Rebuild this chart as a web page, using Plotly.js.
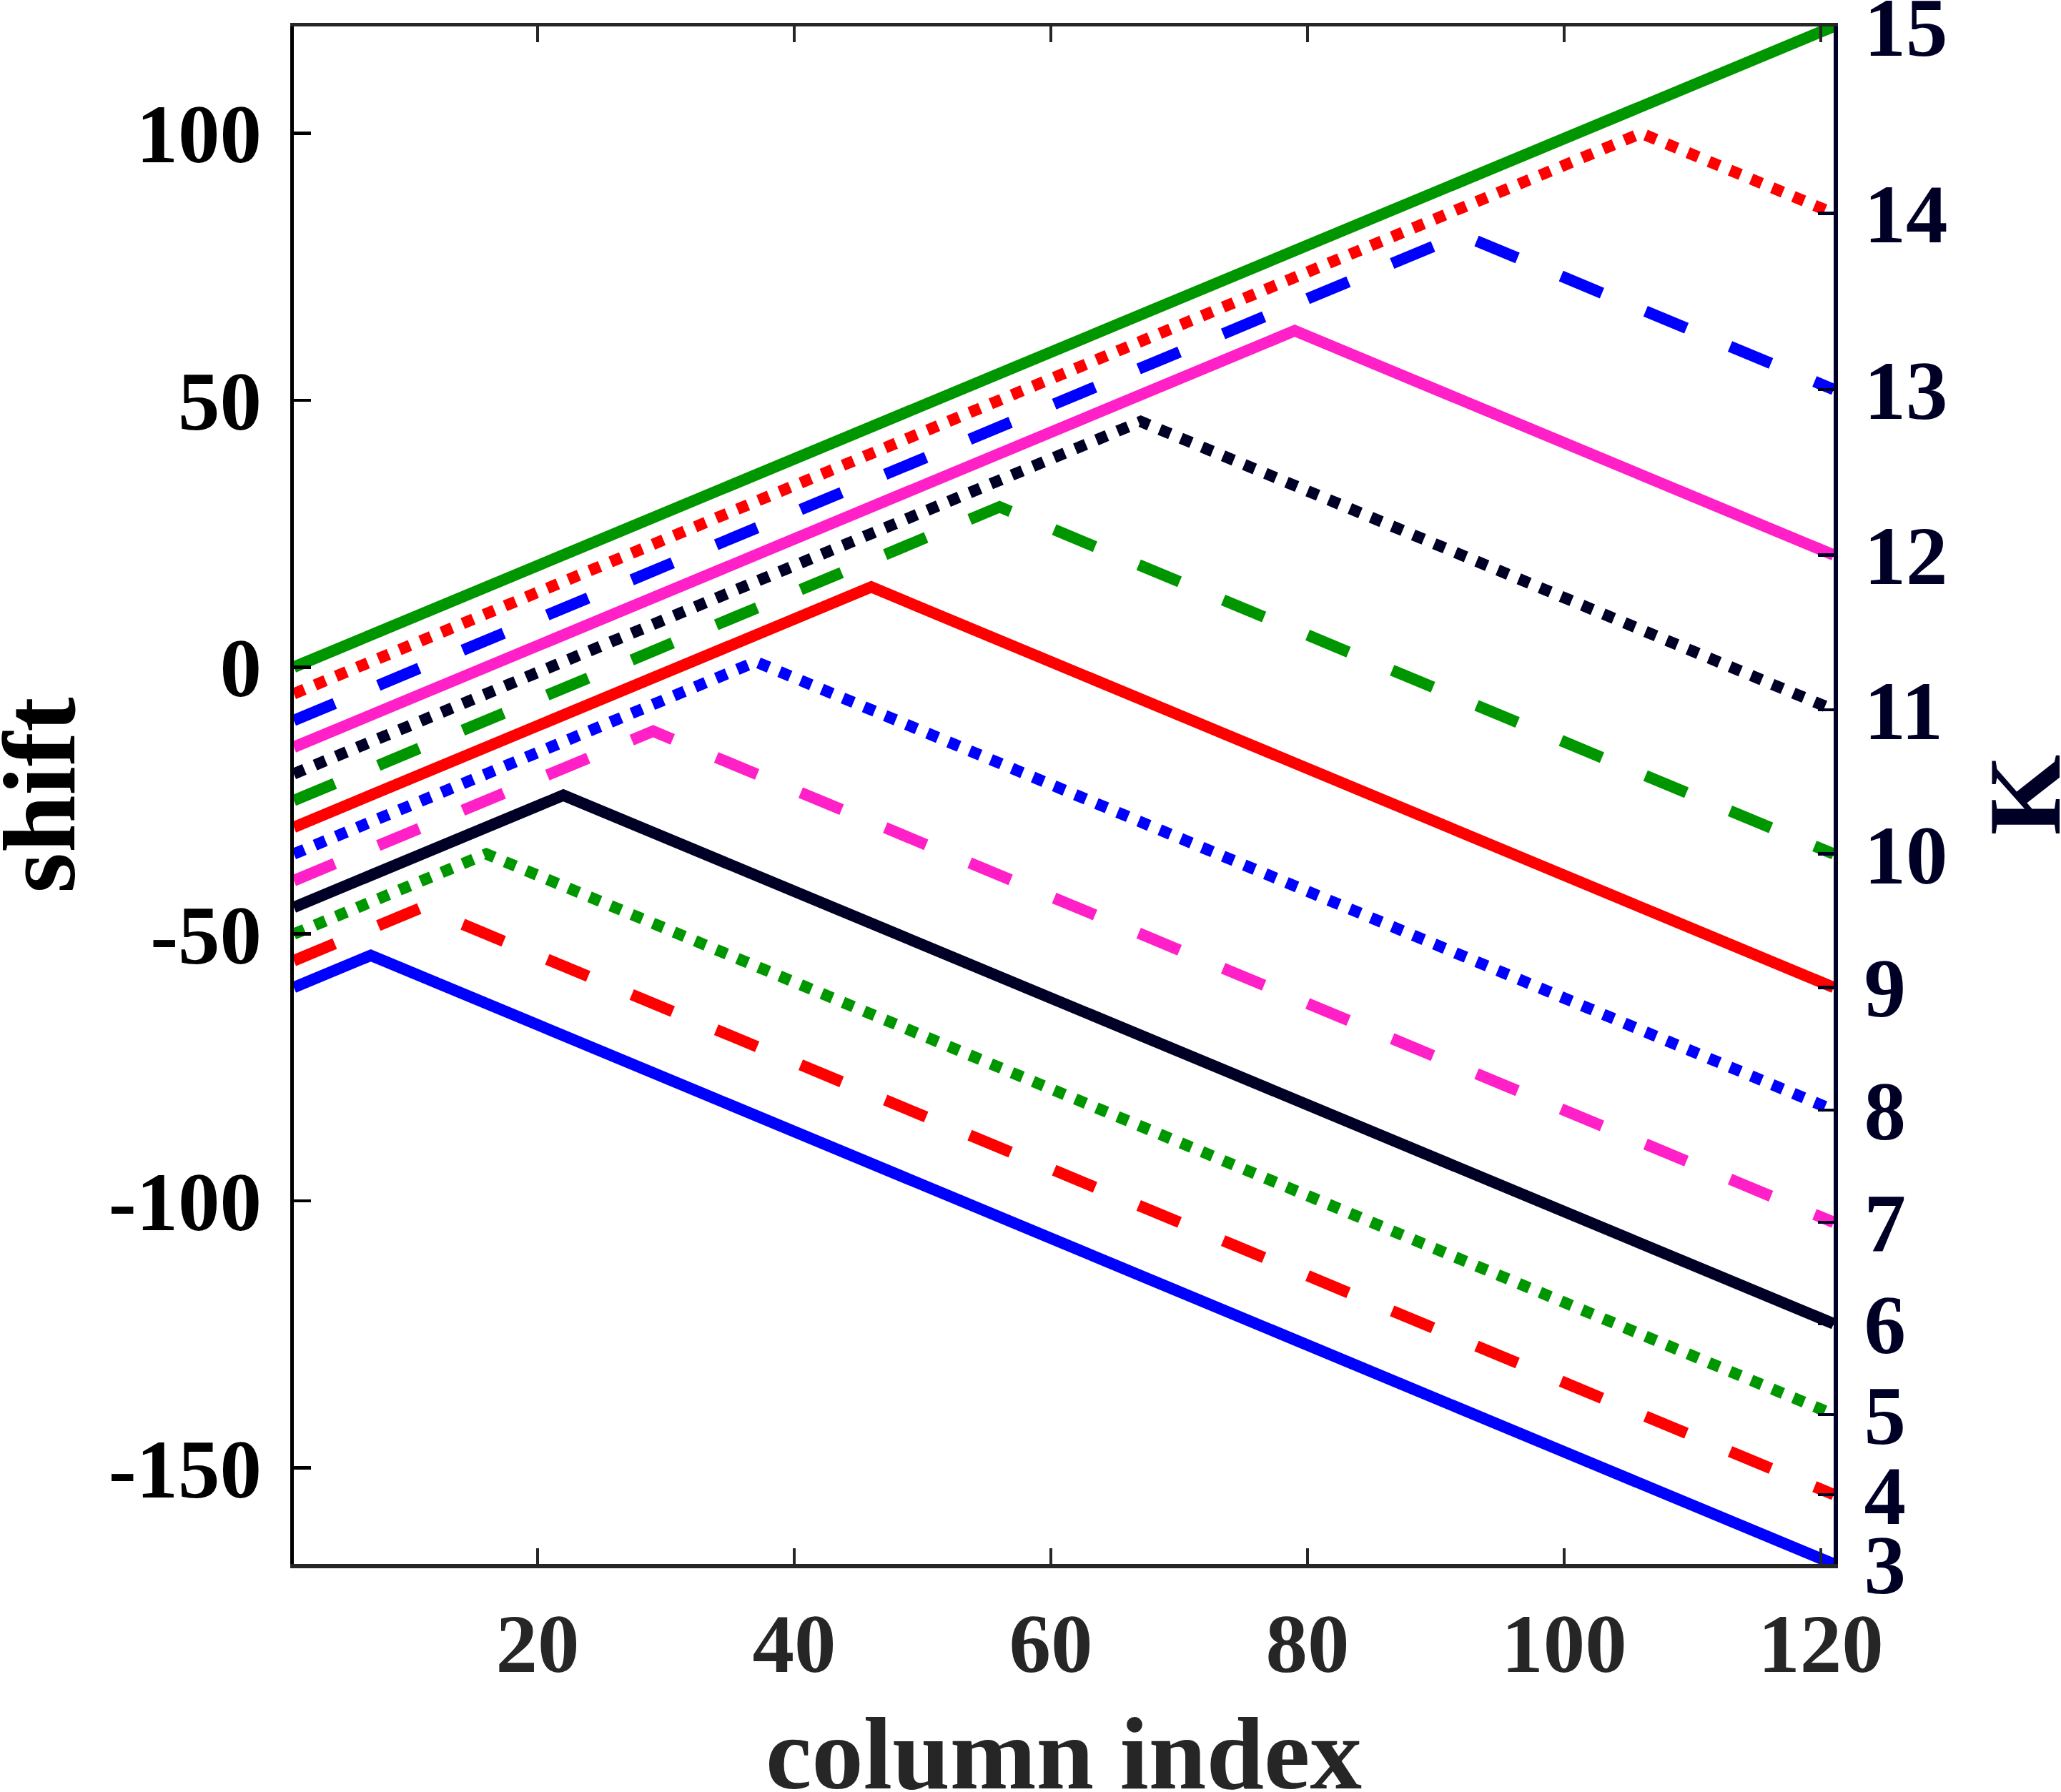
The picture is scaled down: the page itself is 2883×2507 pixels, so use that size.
<!DOCTYPE html>
<html>
<head>
<meta charset="utf-8">
<script src="https://cdn.plot.ly/plotly-3.0.1.min.js"></script>
<style>
  html, body { margin: 0; padding: 0; background: #ffffff; }
  #chart { width: 2883px; height: 2507px; }
</style>
</head>
<body>
<div id="chart"></div>
<script>
// ---- data ----
const kValues     = [3, 4, 5, 6, 7, 8, 9, 10, 11, 12, 13, 14, 15];
const firstColumn = 1;
const lastColumn  = 121;
const startShift  = [-60, -55, -50, -45, -40, -35, -30, -25, -20, -15, -10, -5, 0];
const peakColumn  = [7, 11, 16, 22, 29, 37, 46, 56, 67, 79, 92, 106, 121];
const peakShift   = [-54, -45, -35, -24, -12, 1, 15, 30, 46, 63, 81, 100, 120];
const endShift    = [-168, -155, -140, -123, -104, -83, -60, -35, -8, 21, 52, 85, 120];
const xTickVals   = [20, 40, 60, 80, 100, 120];
const yTickVals   = [-150, -100, -50, 0, 50, 100];
const yTickText   = ['-150', '-100', '-50', '0', '50', '100'];
const xTitle = 'column index';
const yTitle = 'shift';
const y2Title = 'K';

// ---- styles ----
const lineColors = ['#0000ff', '#ff0000', '#009600', '#000026', '#ff20c8'];
const lineDashes = ['solid', '62px,66px', '16px,16px'];
const FONT = 'Liberation Serif, Times New Roman, serif';
const NAVY = '#000026';

const traces = kValues.map((k, i) => {
  const xs = [firstColumn, peakColumn[i]];
  const ys = [startShift[i], peakShift[i]];
  if (peakColumn[i] < lastColumn) { xs.push(lastColumn); ys.push(endShift[i]); }
  return {
    type: 'scatter', mode: 'lines', x: xs, y: ys, name: 'K=' + k,
    line: { color: lineColors[i % 5], width: 16, dash: lineDashes[i % 3] },
    hoverinfo: 'skip', showlegend: false, xaxis: 'x', yaxis: 'y'
  };
});
// carrier trace so the right K axis exists
traces.push({ type: 'scatter', mode: 'lines', x: [firstColumn], y: [endShift[0]],
  yaxis: 'y2', xaxis: 'x', opacity: 0, hoverinfo: 'skip', showlegend: false });

const titleFont = (c) => ({ family: FONT, size: 145, color: c, weight: 'bold' });

const layout = {
  width: 2883, height: 2507,
  margin: { l: 411, r: 318, t: 37, b: 319, pad: 0 },
  paper_bgcolor: '#ffffff', plot_bgcolor: '#ffffff',
  showlegend: false,
  xaxis: {
    range: [firstColumn, lastColumn], tickvals: xTickVals,
    ticks: 'inside', ticklen: 22, tickwidth: 4.5, tickcolor: '#262626',
    showline: true, linecolor: '#262626', linewidth: 5.5, mirror: 'ticks',
    showgrid: false, zeroline: false, ticklabelstandoff: 5,
    ticklabeloverflow: 'allow',
    tickfont: { family: FONT, size: 117, color: '#262626', weight: 'bold' }
  },
  yaxis: {
    range: [-168, 120], tickvals: yTickVals, ticktext: yTickText,
    ticks: 'inside', ticklen: 24, tickwidth: 4.5, tickcolor: '#000000',
    showline: true, linecolor: '#000000', linewidth: 5.5, mirror: false,
    showgrid: false, zeroline: false, ticklabelstandoff: 16,
    ticklabeloverflow: 'allow',
    tickfont: { family: FONT, size: 117, color: '#000000', weight: 'bold' }
  },
  yaxis2: {
    overlaying: 'y', side: 'right', anchor: 'x',
    range: [-168, 120], tickvals: endShift, ticktext: kValues.map(String),
    ticks: 'inside', ticklen: 22, tickwidth: 4.5, tickcolor: NAVY,
    showline: true, linecolor: NAVY, linewidth: 6,
    showgrid: false, zeroline: false, ticklabelstandoff: 13,
    ticklabeloverflow: 'allow',
    tickfont: { family: FONT, size: 117, color: NAVY, weight: 'bold' }
  },
  annotations: [
    { text: xTitle, xref: 'paper', yref: 'paper', x: 0.5, y: 0,
      xanchor: 'center', yanchor: 'middle', yshift: -265,
      showarrow: false, borderpad: 0, font: titleFont('#262626') },
    { text: yTitle, xref: 'paper', yref: 'paper', x: 0, y: 0.5,
      xanchor: 'center', yanchor: 'middle', xshift: -357, textangle: -90,
      showarrow: false, borderpad: 0, font: titleFont('#000000') },
    { text: y2Title, xref: 'paper', yref: 'paper', x: 1, y: 0.5,
      xanchor: 'center', yanchor: 'middle', xshift: 266, textangle: -90,
      showarrow: false, borderpad: 0, font: titleFont(NAVY) }
  ]
};

Plotly.newPlot('chart', traces, layout, { staticPlot: true, displayModeBar: false });
</script>
</body>
</html>
